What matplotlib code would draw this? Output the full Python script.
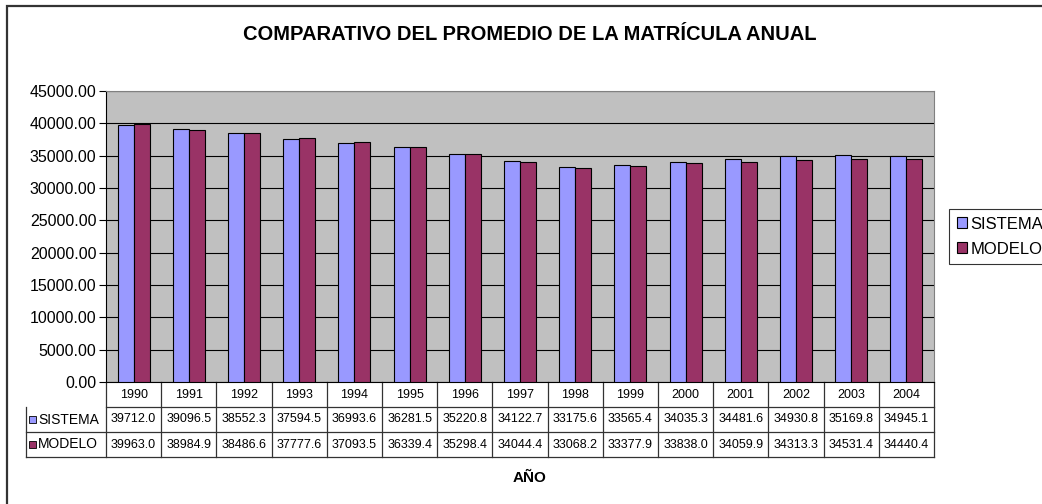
import numpy as np
import matplotlib
matplotlib.use("Agg")
import matplotlib.pyplot as plt
import matplotlib.transforms as mtransforms
from matplotlib.patches import Rectangle

# chart values
years = ["1990", "1991", "1992", "1993", "1994", "1995", "1996", "1997",
         "1998", "1999", "2000", "2001", "2002", "2003", "2004"]
sistema = [39712.0, 39096.5, 38552.3, 37594.5, 36993.6, 36281.5, 35220.8, 34122.7,
           33175.6, 33565.4, 34035.3, 34481.6, 34930.8, 35169.8, 34945.1]
modelo = [39963.0, 38984.9, 38486.6, 37777.6, 37093.5, 36339.4, 35298.4, 34044.4,
          33068.2, 33377.9, 33838.0, 34059.9, 34313.3, 34531.4, 34440.4]
series_names = ["SISTEMA", "MODELO"]
yticks = np.arange(0, 45001, 5000)

c_sis = "#9999FF"
c_mod = "#993366"
FONT = "Liberation Sans"
plt.rcParams["font.family"] = [FONT, "DejaVu Sans"]

W, H = 1042, 504
fig = plt.figure(figsize=(W / 100, H / 100), dpi=100)
fig.patch.set_facecolor("white")

def fx(x):
    return x / W

def fy(y):
    return 1 - y / H

# outer chart border (runs off the right/bottom edge like the original)
fig.add_artist(Rectangle((fx(7), fy(560)), fx(1100), fy(6) - fy(560), transform=fig.transFigure,
                         fill=False, edgecolor="#333333", lw=1.6))

ax = fig.add_axes([fx(106), fy(382), fx(934) - fx(106), fy(91) - fy(382)])
ax.set_facecolor("#C0C0C0")

x = np.arange(len(years))
bw = 0.29
ax.bar(x - bw / 2, sistema, bw, color=c_sis, edgecolor="black", lw=0.8, zorder=3, label=series_names[0])
ax.bar(x + bw / 2, modelo, bw, color=c_mod, edgecolor="black", lw=0.8, zorder=3, label=series_names[1])

ax.set_xlim(-0.5, len(years) - 0.5)
ax.set_ylim(0, 45000)
ax.set_yticks(yticks)
ax.set_yticklabels(["%.2f" % v for v in yticks], fontsize=11.5)
ax.yaxis.grid(True, color="black", lw=0.8, zorder=1)
ax.set_xticks([])
ax.tick_params(axis="y", length=5, width=0.8, pad=2)
for s in ["top", "right"]:
    ax.spines[s].set_color("#808080")
ax.spines["left"].set_color("black")
ax.spines["bottom"].set_color("black")

# data table under the plot, columns follow the x scale
tr = mtransforms.blended_transform_factory(ax.transData, ax.transAxes)
r = 25 / 291
lab_left = -0.5 - (106 - 26) / 55.2
lc = "#333333"
for k in range(1, 4):
    x0 = -0.5 if k == 1 else lab_left
    ax.plot([x0, len(years) - 0.5], [-k * r, -k * r], color=lc, lw=0.9, transform=tr, clip_on=False)
for k in range(len(years) + 1):
    ax.plot([k - 0.5, k - 0.5], [0, -3 * r], color=lc, lw=0.9, transform=tr, clip_on=False)
ax.plot([lab_left, lab_left], [-r, -3 * r], color=lc, lw=0.9, transform=tr, clip_on=False)

for i in range(len(years)):
    ax.text(x[i], -0.5 * r, years[i], transform=tr, ha="center", va="center", fontsize=9)
    ax.text(x[i], -1.5 * r, "%.1f" % sistema[i], transform=tr, ha="center", va="center", fontsize=9)
    ax.text(x[i], -2.5 * r, "%.1f" % modelo[i], transform=tr, ha="center", va="center", fontsize=9)

for j, (name, col) in enumerate(zip(series_names, [c_sis, c_mod])):
    yc = -(1.5 + j) * r
    ax.add_patch(Rectangle((lab_left + 3 / 55.2, yc - 3.2 / 291), 6.5 / 55.2, 6.5 / 291, transform=tr,
                           facecolor=col, edgecolor="black", lw=0.6, clip_on=False))
    ax.text(lab_left + 12 / 55.2, yc, name, transform=tr, ha="left", va="center", fontsize=10)

fig.text(fx(530), fy(35), "COMPARATIVO DEL PROMEDIO DE LA MATRÍCULA ANUAL",
         ha="center", va="center", fontsize=14.5, fontweight="bold")
fig.text(fx(530), fy(478), "AÑO", ha="center", va="center", fontsize=11, fontweight="bold")

# legend box runs past the right edge, as in the reference
leg = fig.legend(loc="upper left", bbox_to_anchor=(fx(949), fy(209)), fontsize=12,
                 frameon=True, fancybox=False, edgecolor="black", borderpad=0.45,
                 handlelength=0.6, handleheight=0.6, handletextpad=0.25, labelspacing=0.6,
                 borderaxespad=0)
leg.get_frame().set_linewidth(0.8)

fig.savefig("out.png", dpi=100)
